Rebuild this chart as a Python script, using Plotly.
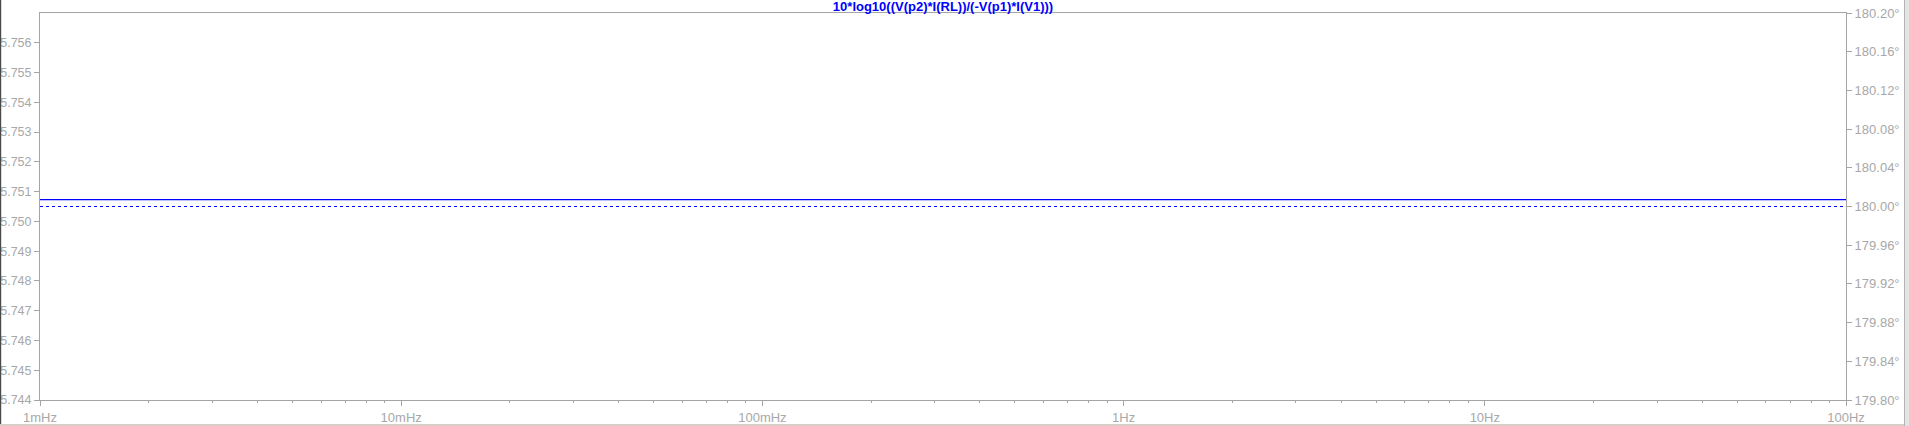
import plotly.graph_objects as go

# ---- data ----
freq_hz = [0.001, 0.01, 0.1, 1.0, 10.0, 100.0]
gain_db = [5.75073, 5.75073, 5.75073, 5.75073, 5.75073, 5.75073]
phase_deg = [180.0, 180.0, 180.0, 180.0, 180.0, 180.0]

x_tick_vals = [0.001, 0.01, 0.1, 1, 10, 100]
x_tick_text = ["1mHz", "10mHz", "100mHz", "1Hz", "10Hz", "100Hz"]
x_minor_vals = [m * d for d in [0.001, 0.01, 0.1, 1, 10] for m in range(2, 10)]

y_left_ticks = [5.744, 5.745, 5.746, 5.747, 5.748, 5.749, 5.750, 5.751,
                5.752, 5.753, 5.754, 5.755, 5.756]
y_right_ticks = [179.80, 179.84, 179.88, 179.92, 179.96, 180.00,
                 180.04, 180.08, 180.12, 180.16, 180.20]
y_right_text = [f"{v:.2f}\u00b0" for v in y_right_ticks]

title_text = "10*log10((V(p2)*I(RL))/(-V(p1)*I(V1)))"

W, H = 1909, 426
L, R, T, B = 40, 63, 13, 26

AXC = "#a5a5a5"
LBL = "#a8a8a8"
BLUE = "#0000ff"
FONT = "Liberation Sans"

fig = go.Figure()
fig.add_trace(go.Scatter(x=freq_hz, y=gain_db, mode="lines",
                         line=dict(color=BLUE, width=1.2), yaxis="y",
                         showlegend=False, hoverinfo="skip"))
fig.add_trace(go.Scatter(x=freq_hz, y=phase_deg, mode="lines",
                         line=dict(color=BLUE, width=1, dash="dot"), yaxis="y2",
                         showlegend=False, hoverinfo="skip"))

fig.update_layout(
    width=W, height=H,
    autosize=False,
    margin=dict(l=L, r=R, t=T, b=B, pad=0, autoexpand=False),
    paper_bgcolor="white", plot_bgcolor="white",
    font=dict(family=FONT, size=13, color=LBL),
    title=dict(text="<b>" + title_text + "</b>", xref="paper", x=0.5,
               xanchor="center", yref="container", y=1 - 11 / H,
               yanchor="bottom", automargin=False,
               font=dict(family=FONT, size=13, color=BLUE)),
    xaxis=dict(type="log", range=[-3, 2], tickmode="array",
               tickvals=x_tick_vals, ticktext=x_tick_text,
               ticks="outside", ticklen=5, tickcolor=AXC, tickwidth=1,
               showline=True, linecolor=AXC, linewidth=1, mirror=True,
               showgrid=False, zeroline=False, automargin=False,
               tickfont=dict(family=FONT, size=13, color=LBL),
               minor=dict(tickmode="array", tickvals=x_minor_vals,
                          ticks="outside", ticklen=2, tickcolor=AXC,
                          showgrid=False)),
    yaxis=dict(range=[5.744, 5.757], tickmode="array",
               tickvals=y_left_ticks, tickformat=".3f",
               ticks="outside", ticklen=5, tickcolor=AXC,
               showline=True, linecolor=AXC, linewidth=1,
               showgrid=False, zeroline=False, automargin=False,
               tickfont=dict(family=FONT, size=12.5, color=LBL)),
    yaxis2=dict(range=[179.8, 180.2], overlaying="y", side="right",
                tickmode="array", tickvals=y_right_ticks,
                ticktext=y_right_text,
                ticks="outside", ticklen=5, tickcolor=AXC,
                showline=True, linecolor=AXC, linewidth=1,
                showgrid=False, zeroline=False, automargin=False,
                tickfont=dict(family=FONT, size=13, color=LBL)),
)

# window frame decorations
pw = W - L - R
ph = H - T - B
def px(x):
    return (x - L) / pw
def py(y):
    return 1 - (y - T) / ph

fig.add_shape(type="rect", xref="paper", yref="paper",
              x0=px(0), x1=px(1.2), y0=py(0), y1=py(H),
              line=dict(width=0), fillcolor="#4a4a4a", layer="above")
fig.add_shape(type="rect", xref="paper", yref="paper",
              x0=px(1904), x1=px(1905), y0=py(0), y1=py(H),
              line=dict(width=0), fillcolor="#b4b4b4", layer="above")
fig.add_shape(type="rect", xref="paper", yref="paper",
              x0=px(1905), x1=px(W), y0=py(0), y1=py(H),
              line=dict(width=0), fillcolor="#e4e4e4", layer="above")
fig.add_shape(type="rect", xref="paper", yref="paper",
              x0=px(0), x1=px(1904), y0=py(424), y1=py(H),
              line=dict(width=0), fillcolor="#d8d0c6", layer="above")

fig.write_html("out.html",
               config={"displayModeBar": False, "staticPlot": True},
               post_script="document.body.style.margin='0';"
                           "document.body.style.padding='0';"
                           "document.body.style.overflow='hidden';")
